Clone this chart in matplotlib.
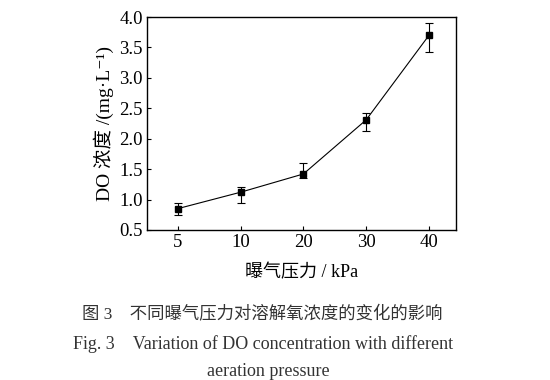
import matplotlib
matplotlib.use("Agg")
import matplotlib.pyplot as plt
import numpy as np

plt.rcParams['font.family'] = ['Liberation Serif', 'Noto Sans CJK SC', 'DejaVu Serif']

pressure = ["5", "10", "20", "30", "40"]
do_mean = [0.85, 1.12, 1.42, 2.31, 3.70]
err_low = [0.10, 0.18, 0.07, 0.19, 0.27]
err_high = [0.09, 0.09, 0.18, 0.11, 0.20]

fig = plt.figure(figsize=(5.5, 3.8), dpi=100)
ax = fig.add_axes([0.267, 0.395, 0.562, 0.56])

x = np.arange(len(pressure))
ax.errorbar(x, do_mean, yerr=[err_low, err_high], fmt='s-', color='black',
            markersize=4.5, linewidth=0.8, elinewidth=0.8, capsize=3, capthick=0.8)

ax.set_xlim(-0.494, 4.43)
ax.set_ylim(0.5, 4.0)
ax.set_xticks(x)
ax.set_xticklabels(pressure)
ax.set_yticks([0.5, 1.0, 1.5, 2.0, 2.5, 3.0, 3.5, 4.0])
ax.tick_params(direction='in', length=3, labelsize=13.5, pad=3)
for s in ax.spines.values():
    s.set_linewidth(1.0)

ax.set_xlabel("曝气压力 / kPa", fontsize=13, labelpad=9)
ax.set_ylabel("DO 浓度 /(mg·L⁻¹)", fontsize=14, labelpad=4)

fig.text(0.477, 1 - 315 / 380, "图 3　不同曝气压力对溶解氧浓度的变化的影响",
         ha='center', va='center', fontsize=12.5, color='#333333')
fig.text(0.478, 1 - 344 / 380, "Fig. 3　Variation of DO concentration with different",
         ha='center', va='center', fontsize=13, color='#333333')
fig.text(0.487, 1 - 372 / 380, "aeration pressure",
         ha='center', va='center', fontsize=13, color='#333333')

fig.savefig("out.png", dpi=100)
